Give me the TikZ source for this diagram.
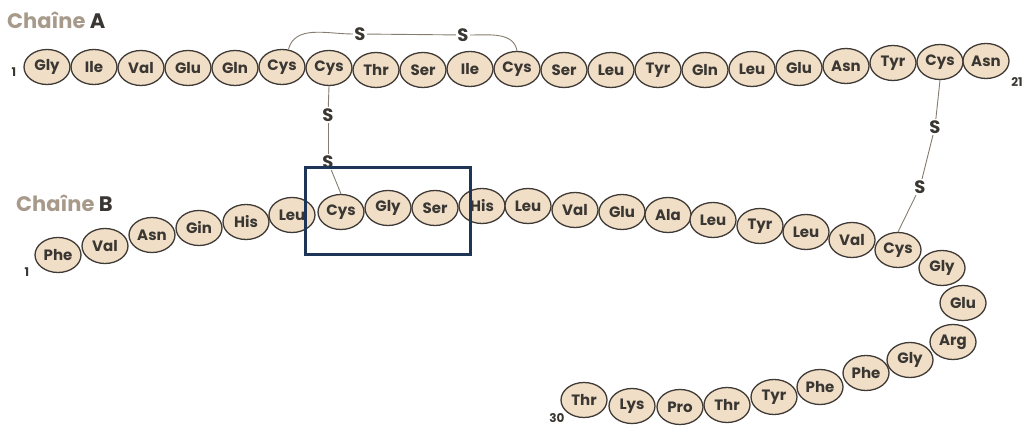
\documentclass[tikz,border=0pt]{standalone}
\usepackage{fontspec}
\setmainfont{Poppins}
\usepackage{xcolor}
\usetikzlibrary{shapes.geometric}

\definecolor{beadfill}{HTML}{F0DEC7}
\definecolor{beadline}{HTML}{3F3A35}
\definecolor{aatext}{HTML}{3A3733}
\definecolor{bondgray}{HTML}{857D71}
\definecolor{chaincol}{HTML}{A89A8B}
\definecolor{selnavy}{HTML}{1D3658}

\begin{document}
\begin{tikzpicture}[
    x=1pt, y=-1pt,
    aa/.style={
        ellipse,
        draw=beadline,
        fill=beadfill,
        line width=1.3pt,
        minimum width=46pt,
        minimum height=35pt,
        inner sep=0pt,
        text=aatext,
        font=\bfseries\fontsize{15}{15}\selectfont
    },
    sulf/.style={text=aatext, inner sep=1.5pt, font=\bfseries\fontsize{18}{18}\selectfont},
    bond/.style={draw=bondgray, line width=0.9pt},
    num/.style={text=aatext, inner sep=0pt, font=\bfseries\fontsize{12}{12}\selectfont},
    chain/.style={anchor=west, inner sep=0pt, font=\bfseries\fontsize{21}{21}\selectfont},
    selbox/.style={draw=selnavy, line width=3pt, minimum width=165pt, minimum height=87pt, inner sep=0pt}
]
\useasboundingbox (0,0) rectangle (1028,427);

% Chain A
\node[chain] (lblA) at (7,20) {\textcolor{chaincol}{Chaîne} \textcolor{aatext}{A}};
\node[num] (na1) at (14,72) {1};
\node[aa] (a1)  at (47,67)  {Gly};
\node[aa] (a2)  at (94,67)  {Ile};
\node[aa] (a3)  at (141,68) {Val};
\node[aa] (a4)  at (188,68) {Glu};
\node[aa] (a5)  at (235,68) {Gln};
\node[aa] (a6)  at (282,67) {Cys};
\node[aa] (a7)  at (329,68) {Cys};
\node[aa] (a8)  at (376,70) {Thr};
\node[aa] (a9)  at (423,70) {Ser};
\node[aa] (a10) at (470,69) {Ile};
\node[aa] (a11) at (517,69) {Cys};
\node[aa] (a12) at (564,70) {Ser};
\node[aa] (a13) at (611,70) {Leu};
\node[aa] (a14) at (658,70) {Tyr};
\node[aa] (a15) at (705,70) {Gln};
\node[aa] (a16) at (752,69) {Leu};
\node[aa] (a17) at (799,68) {Glu};
\node[aa] (a18) at (846,66) {Asn};
\node[aa] (a19) at (893,63) {Tyr};
\node[aa] (a20) at (940,62) {Cys};
\node[aa] (a21) at (986,61) {Asn};
\node[num] (na21) at (1017,82) {21};

% Chain B
\node[chain] (lblB) at (16,203) {\textcolor{chaincol}{Chaîne} \textcolor{aatext}{B}};
\node[num] (nb1) at (27,272) {1};
\node[aa] (b1)  at (58,255)  {Phe};
\node[aa] (b2)  at (105,246) {Val};
\node[aa] (b3)  at (152,235) {Asn};
\node[aa] (b4)  at (199,228) {Gin};
\node[aa] (b5)  at (246,222) {His};
\node[aa] (b6)  at (292,215) {Leu};
\node[aa] (b7)  at (341,212) {Cys};
\node[aa] (b8)  at (388,208) {Gly};
\node[aa] (b9)  at (435,208) {Ser};
\node[aa] (b10) at (482,206) {His};
\node[aa] (b11) at (528,206) {Leu};
\node[aa] (b12) at (575,210) {Val};
\node[aa] (b13) at (622,212) {Glu};
\node[aa] (b14) at (668,215) {Ala};
\node[aa] (b15) at (713,220) {Leu};
\node[aa] (b16) at (760,226) {Tyr};
\node[aa] (b17) at (806,232) {Leu};
\node[aa] (b18) at (852,240) {Val};
\node[aa] (b19) at (898,250) {Cys};
\node[aa] (b20) at (942,268) {Gly};
\node[aa] (b21) at (963,303) {Glu};
\node[aa] (b22) at (953,342) {Arg};
\node[aa] (b23) at (910,360) {Gly};
\node[aa] (b24) at (866,373) {Phe};
\node[aa] (b25) at (820,387) {Phe};
\node[aa] (b26) at (774,397) {Tyr};
\node[aa] (b27) at (727,405) {Thr};
\node[aa] (b28) at (680,407) {Pro};
\node[aa] (b29) at (632,406) {Lys};
\node[aa] (b30) at (584,400) {Thr};
\node[num] (nb30) at (557,418) {30};

% Disulfide bridges
\node[sulf] (s1) at (360,34)  {S};
\node[sulf] (s2) at (463,35)  {S};
\node[sulf] (s3) at (328,115) {S};
\node[sulf] (s4) at (328,162) {S};
\node[sulf] (s5) at (935,127) {S};
\node[sulf] (s6) at (920,187) {S};

\draw[bond] (a6.70) to[out=75, in=180] (s1.west);
\draw[bond] (s1) -- (s2);
\draw[bond] (s2.east) to[out=0, in=100] (a11.north);
\draw[bond] (a7.south) -- (s3);
\draw[bond] (s3) -- (s4);
\draw[bond] (s4) -- (b7.north);
\draw[bond] (a20.south) -- (s5);
\draw[bond] (s5) -- (s6);
\draw[bond] (s6) -- (b19.north);

% Highlight
\node[selbox] (sel) at (387.5,211.5) {};

\end{tikzpicture}
\end{document}
